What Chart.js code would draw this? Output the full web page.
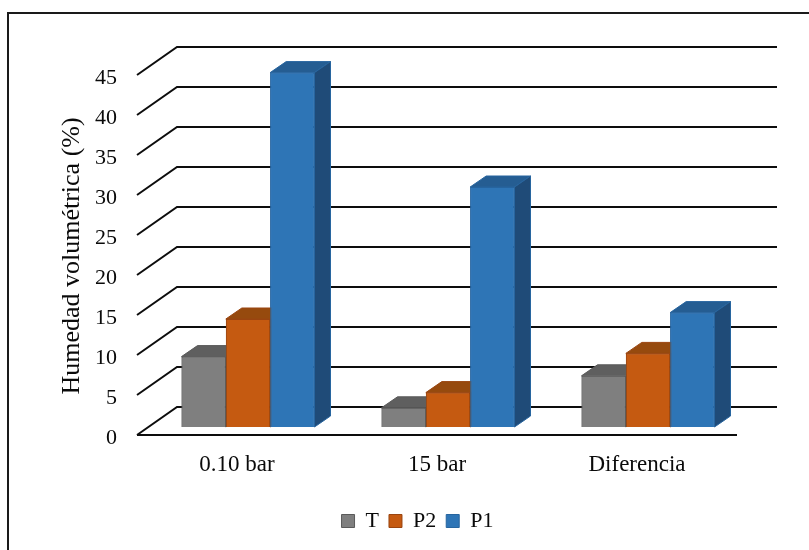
<!DOCTYPE html>
<html>
<head>
<meta charset="utf-8">
<script src="https://cdn.jsdelivr.net/npm/chart.js@4/dist/chart.umd.min.js"></script>
<style>
  html, body { margin: 0; padding: 0; background: #ffffff; }
  #wrap { width: 809px; height: 550px; }
</style>
</head>
<body>
<div id="wrap"><canvas id="chart" width="809" height="550"></canvas></div>
<script>
// Data
const categories = ['0.10 bar', '15 bar', 'Diferencia'];
const seriesNames = ['T', 'P2', 'P1'];
const valuesT  = [8.8, 2.4, 6.4];
const valuesP2 = [13.5, 4.3, 9.2];
const valuesP1 = [44.3, 30.0, 14.3];
const yTickValues = [0, 5, 10, 15, 20, 25, 30, 35, 40, 45];
const yTitle = 'Humedad volumétrica (%)';

// Styling for each series: front face, outline, top face, side face
const faceColors = [
  { front: '#7f7f7f', border: '#5a5a5a', top: '#5f5f5f', side: '#4d4d4d' },
  { front: '#c55a11', border: '#9a4510', top: '#964a0e', side: '#843c0c' },
  { front: '#2e75b6', border: '#27659f', top: '#255d92', side: '#1f4b78' }
];

// Perspective offsets relative to the plane of the bar fronts
const FRONT = { dx: -11, dy: 8 };    // front edge of the floor
const BACK  = { dx: 29,  dy: -20 };  // back wall
const DEPTH = { dx: 16,  dy: -11 };  // bar depth

const FONT = '"Liberation Serif", "Times New Roman", serif';
const TEXT_COLOR = '#0a0a0a';

const seriesValues = [valuesT, valuesP2, valuesP1];

const threeD = {
  id: 'threeD',
  beforeDraw(chart) {
    const { ctx } = chart;
    ctx.save();
    ctx.fillStyle = '#ffffff';
    ctx.fillRect(0, 0, chart.width, chart.height);
    ctx.strokeStyle = '#1a1a1a';
    ctx.lineWidth = 2;
    ctx.strokeRect(8, 13, chart.width + 20, chart.height + 20);
    ctx.restore();
  },
  beforeDatasetsDraw(chart) {
    const { ctx, chartArea: a } = chart;
    const y = chart.scales.y;
    ctx.save();
    ctx.strokeStyle = '#0d0d0d';
    ctx.lineWidth = 2;
    y.ticks.forEach(t => {
      const py = y.getPixelForValue(t.value);
      ctx.beginPath();
      ctx.moveTo(a.left + FRONT.dx, py + FRONT.dy);
      ctx.lineTo(a.left + BACK.dx, py + BACK.dy);
      ctx.lineTo(a.right + BACK.dx, py + BACK.dy);
      ctx.stroke();
    });
    const p0 = y.getPixelForValue(0) + FRONT.dy;
    ctx.beginPath();
    ctx.moveTo(a.left + FRONT.dx, p0);
    ctx.lineTo(a.right + FRONT.dx, p0);
    ctx.stroke();
    ctx.restore();
  },
  afterDatasetsDraw(chart) {
    const { ctx } = chart;
    const n = chart.data.labels.length;
    ctx.save();
    for (let i = 0; i < n; i++) {
      chart.data.datasets.forEach((ds, d) => {
        const meta = chart.getDatasetMeta(d);
        const el = meta.data[i];
        if (!el) return;
        const c = faceColors[d];
        const { x, y, base, width } = el.getProps(['x', 'y', 'base', 'width'], true);
        const l = x - width / 2, r = x + width / 2;
        el.draw(ctx);
        ctx.lineWidth = 1;
        ctx.strokeStyle = c.border;
        // top face
        ctx.beginPath();
        ctx.moveTo(l, y);
        ctx.lineTo(l + DEPTH.dx, y + DEPTH.dy);
        ctx.lineTo(r + DEPTH.dx, y + DEPTH.dy);
        ctx.lineTo(r, y);
        ctx.closePath();
        ctx.fillStyle = c.top;
        ctx.fill();
        ctx.stroke();
        // side face
        ctx.beginPath();
        ctx.moveTo(r, y);
        ctx.lineTo(r + DEPTH.dx, y + DEPTH.dy);
        ctx.lineTo(r + DEPTH.dx, base + DEPTH.dy);
        ctx.lineTo(r, base);
        ctx.closePath();
        ctx.fillStyle = c.side;
        ctx.fill();
        ctx.stroke();
      });
    }
    ctx.restore();
  },
  afterDraw(chart) {
    const { ctx } = chart;
    ctx.save();
    ctx.translate(72, 256);
    ctx.rotate(-Math.PI / 2);
    ctx.font = '26px ' + FONT;
    ctx.fillStyle = TEXT_COLOR;
    ctx.textAlign = 'center';
    ctx.textBaseline = 'middle';
    ctx.fillText(yTitle, 0, 0);
    ctx.restore();
  }
};

new Chart(document.getElementById('chart'), {
  type: 'bar',
  data: {
    labels: categories,
    datasets: seriesNames.map((name, d) => ({
      label: name,
      data: seriesValues[d],
      backgroundColor: faceColors[d].front,
      borderColor: faceColors[d].border,
      borderWidth: 1,
      categoryPercentage: 0.665,
      barPercentage: 1.0
    }))
  },
  options: {
    responsive: false,
    devicePixelRatio: 1,
    animation: false,
    layout: { padding: { left: 87, right: 61, top: 67, bottom: 8 } },
    plugins: {
      legend: {
        position: 'bottom',
        labels: {
          boxWidth: 13,
          boxHeight: 13,
          padding: 10,
          color: TEXT_COLOR,
          font: { family: FONT, size: 22 }
        }
      },
      tooltip: { enabled: false }
    },
    scales: {
      x: {
        grid: { display: false, drawTicks: false, tickLength: 0 },
        border: { display: false },
        ticks: {
          color: TEXT_COLOR,
          font: { family: FONT, size: 23 },
          padding: 24,
          labelOffset: FRONT.dx,
          maxRotation: 0
        },
        afterFit(scale) { scale.height = 73; }
      },
      y: {
        min: 0,
        max: 45,
        grid: { display: false, drawTicks: false, tickLength: 0 },
        border: { display: false },
        afterBuildTicks(scale) {
          scale.ticks = yTickValues.map(v => ({ value: v }));
        },
        ticks: {
          color: TEXT_COLOR,
          font: { family: FONT, size: 22 },
          padding: 31,
          labelOffset: 11
        },
        afterFit(scale) { scale.width = 61; }
      }
    }
  },
  plugins: [threeD]
});
</script>
</body>
</html>
